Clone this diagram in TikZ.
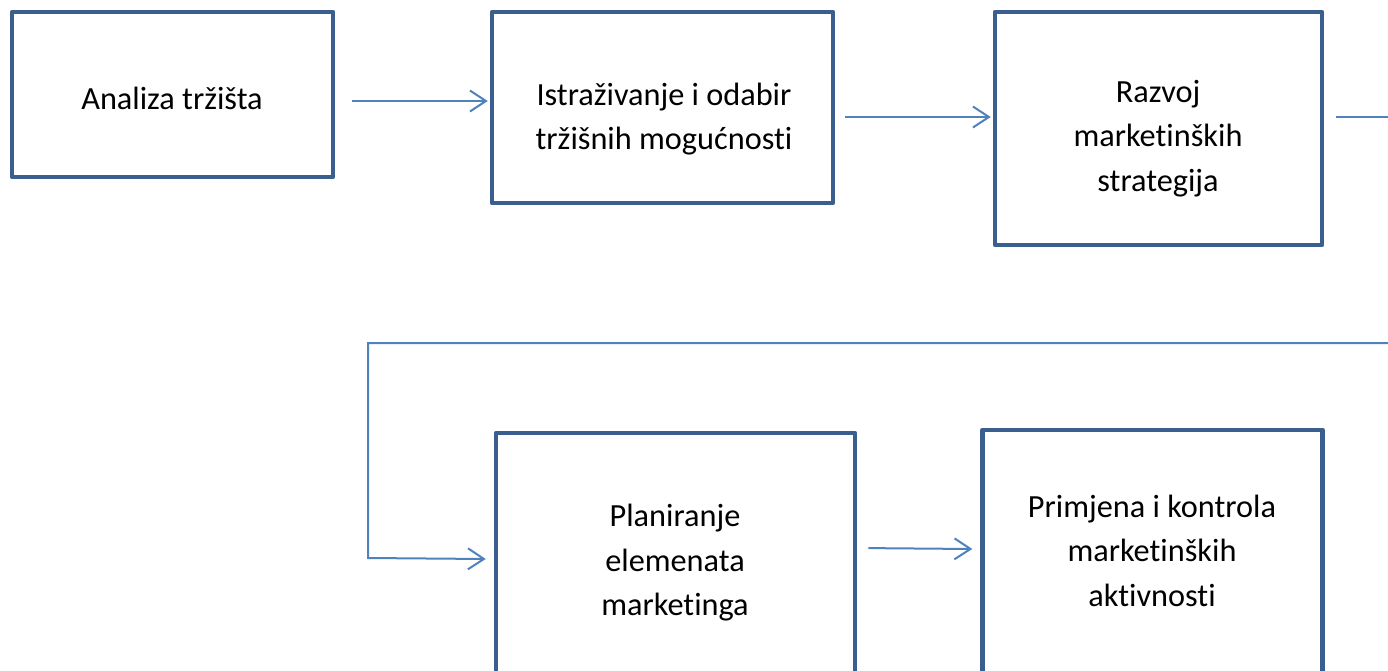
\documentclass[tikz,border=0pt]{standalone}
\usepackage{fontspec}
\setmainfont[Ligatures={NoCommon}]{Carlito}
\usetikzlibrary{arrows.meta}
\definecolor{boxblue}{HTML}{3A5F8E}
\definecolor{arrblue}{HTML}{4F81BD}
\tikzset{
  stagebox/.style={draw=boxblue, line width=4.5pt, fill=white, rectangle, inner sep=0pt, line join=round},
  lbl/.style={align=center, font=\fontsize{32.3}{44.5}\selectfont, inner sep=0pt, text=black},
  conn/.style={draw=arrblue, line width=2pt},
  arr/.style={conn, -{Straight Barb[length=16pt,width=21pt,line width=2pt]}}
}
\begin{document}
\begin{tikzpicture}[x=1pt,y=-1pt]
\useasboundingbox (0,0) rectangle (1388,671);
\clip (0,0) rectangle (1388,671);
% boxes (outline centers)
\node[stagebox, minimum width=321pt, minimum height=165pt] (b1) at (172.5,94.5) {};
\node[stagebox, minimum width=341pt, minimum height=191pt] (b2) at (662.5,107.5) {};
\node[stagebox, minimum width=327pt, minimum height=233pt] (b3) at (1158.5,128.5) {};
\node[stagebox, minimum width=359pt, minimum height=280pt] (b4) at (675.5,573) {};
\node[stagebox, minimum width=340pt, minimum height=284pt] (b5) at (1152.5,572) {};
% texts
\node[lbl] (t1) at (172,98) {Analiza tržišta};
\node[lbl] (t2) at (664,119) {Istraživanje i odabir\\tržišnih mogućnosti};
\node[lbl] (t3) at (1158,138.5) {Razvoj\\marketinških\\strategija};
\node[lbl] (t4) at (675,563) {Planiranje\\elemenata\\marketinga};
\node[lbl] (t5) at (1152,550.5) {Primjena i kontrola\\marketinških\\aktivnosti};
% free ends / routing points
\coordinate (o1) at (1390,117);
\coordinate (o2) at (1390,343);
\coordinate (k1) at (368,343);
\coordinate (k2) at (368,558);
% connectors
\draw[arr, shorten <=17pt] (b1.east |- 0,101) -- ([xshift=-2pt]b2.west |- 0,101);
\draw[arr, shorten <=10pt] (b2.east |- 0,117) -- ([xshift=-2pt]b3.west |- 0,117);
\draw[conn, shorten <=12pt] (b3.east |- 0,117) -- (o1);
\draw[arr] (o2) -- (k1) -- (k2) -- ([xshift=-8pt]b4.west |- 0,559);
\draw[arr, shorten <=11pt] (b4.east |- 0,548) -- ([xshift=-8pt]b5.west |- 0,549);
\end{tikzpicture}
\end{document}
